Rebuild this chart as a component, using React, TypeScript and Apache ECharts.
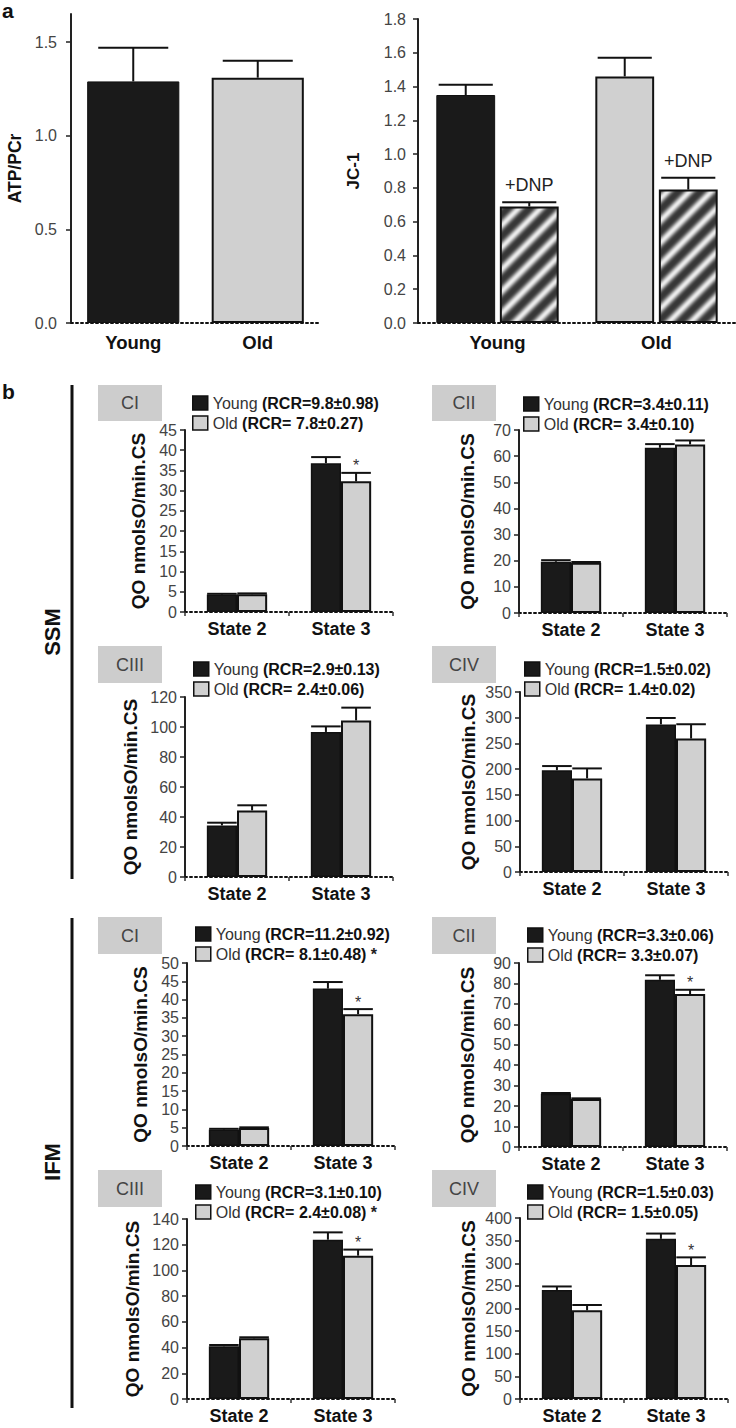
import React, { useEffect, useRef } from 'react';
import * as echarts from 'echarts';

const FONT = '"Liberation Sans", Arial, Helvetica, sans-serif';
const BLACK = '#1a1a1a';
const LIGHT = '#d0d0d0';
const EDGE = '#111111';

// ---------- panel a ----------
const groupCats = ['Young', 'Old'];
const atpMean = [1.29, 1.31];
const atpSem = [0.18, 0.09];
const jcMean = [1.35, 1.46];
const jcSem = [0.06, 0.11];
const jcDnpMean = [0.69, 0.79];
const jcDnpSem = [0.025, 0.07];

// ---------- panel b ----------
const stateCats = ['State 2', 'State 3'];

const ssmCiYoung = [4.3, 36.8];
const ssmCiYoungSem = [0.2, 1.5];
const ssmCiOld = [4.4, 32.3];
const ssmCiOldSem = [0.2, 2.1];
const ssmCiStar = [0, 1];

const ssmCiiYoung = [19.6, 63.2];
const ssmCiiYoungSem = [0.6, 1.4];
const ssmCiiOld = [19.2, 64.5];
const ssmCiiOldSem = [0.3, 1.5];
const ssmCiiStar = [0, 0];

const ssmCiiiYoung = [34.4, 96.7];
const ssmCiiiYoungSem = [1.8, 3.7];
const ssmCiiiOld = [44.4, 104.4];
const ssmCiiiOldSem = [3.4, 8.5];
const ssmCiiiStar = [0, 0];

const ssmCivYoung = [198, 287];
const ssmCivYoungSem = [8, 12.5];
const ssmCivOld = [182, 259.5];
const ssmCivOldSem = [19.4, 27.8];
const ssmCivStar = [0, 0];

const ifmCiYoung = [4.5, 43.0];
const ifmCiYoungSem = [0.2, 1.8];
const ifmCiOld = [4.9, 36.0];
const ifmCiOldSem = [0.2, 1.4];
const ifmCiStar = [0, 1];

const ifmCiiYoung = [26.0, 81.8];
const ifmCiiYoungSem = [0.4, 2.2];
const ifmCiiOld = [23.5, 74.8];
const ifmCiiOldSem = [0.3, 2.1];
const ifmCiiStar = [0, 1];

const ifmCiiiYoung = [41.0, 123.9];
const ifmCiiiYoungSem = [1.0, 5.7];
const ifmCiiiOld = [47.2, 111.5];
const ifmCiiiOldSem = [0.8, 4.7];
const ifmCiiiStar = [0, 1];

const ifmCivYoung = [241, 354];
const ifmCivYoungSem = [7.7, 11.6];
const ifmCivOld = [196, 296];
const ifmCivOldSem = [11.7, 17];
const ifmCivStar = [0, 1];

const complexLabels = ['CI', 'CII', 'CIII', 'CIV', 'CI', 'CII', 'CIII', 'CIV'];
const yMax = [45, 70, 120, 350, 50, 90, 140, 400];
const yInterval = [5, 10, 20, 50, 5, 10, 20, 50];
const youngNames = [
  'Young (RCR=9.8±0.98)', 'Young (RCR=3.4±0.11)', 'Young (RCR=2.9±0.13)', 'Young (RCR=1.5±0.02)',
  'Young (RCR=11.2±0.92)', 'Young (RCR=3.3±0.06)', 'Young (RCR=3.1±0.10)', 'Young (RCR=1.5±0.03)',
];
const oldNames = [
  'Old (RCR= 7.8±0.27)', 'Old (RCR= 3.4±0.10)', 'Old (RCR= 2.4±0.06)', 'Old (RCR= 1.4±0.02)',
  'Old (RCR= 8.1±0.48)', 'Old (RCR= 3.3±0.07)', 'Old (RCR= 2.4±0.08)', 'Old (RCR= 1.5±0.05)',
];
const oldRcrStar = [0, 0, 0, 0, 1, 0, 1, 0];
const fractionLabels = ['SSM', 'IFM'];
const yTitleB = 'QO nmolsO/min.CS';

const youngB = [ssmCiYoung, ssmCiiYoung, ssmCiiiYoung, ssmCivYoung, ifmCiYoung, ifmCiiYoung, ifmCiiiYoung, ifmCivYoung];
const youngSemB = [ssmCiYoungSem, ssmCiiYoungSem, ssmCiiiYoungSem, ssmCivYoungSem, ifmCiYoungSem, ifmCiiYoungSem, ifmCiiiYoungSem, ifmCivYoungSem];
const oldB = [ssmCiOld, ssmCiiOld, ssmCiiiOld, ssmCivOld, ifmCiOld, ifmCiiOld, ifmCiiiOld, ifmCivOld];
const oldSemB = [ssmCiOldSem, ssmCiiOldSem, ssmCiiiOldSem, ssmCivOldSem, ifmCiOldSem, ifmCiiOldSem, ifmCiiiOldSem, ifmCivOldSem];
const starB = [ssmCiStar, ssmCiiStar, ssmCiiiStar, ssmCivStar, ifmCiStar, ifmCiiStar, ifmCiiiStar, ifmCivStar];

// ---------- layout (pixels) ----------
const layoutB = [
  { axisX: 185, top: 430, zero: 612, nameGap: 37, legX: 192, legY: 395, boxX: 98, boxY: 385, boxH: 36 },
  { axisX: 519, top: 430, zero: 613, nameGap: 42, legX: 523, legY: 396, boxX: 432, boxY: 385, boxH: 36 },
  { axisX: 185, top: 697, zero: 877, nameGap: 45, legX: 193, legY: 661, boxX: 98, boxY: 646, boxH: 37 },
  { axisX: 520, top: 692, zero: 872, nameGap: 42, legX: 524, legY: 661, boxX: 432, boxY: 646, boxH: 37 },
  { axisX: 187, top: 963, zero: 1146, nameGap: 37, legX: 195, legY: 926, boxX: 98, boxY: 917, boxH: 37 },
  { axisX: 519, top: 963, zero: 1147, nameGap: 42, legX: 527, legY: 927, boxX: 432, boxY: 917, boxH: 37 },
  { axisX: 187, top: 1219, zero: 1399, nameGap: 45, legX: 195, legY: 1184, boxX: 98, boxY: 1170, boxH: 37 },
  { axisX: 520, top: 1218, zero: 1399, nameGap: 42, legX: 527, legY: 1184, boxX: 432, boxY: 1170, boxH: 37 },
];
const GRID_B_WIDTH = 208;
const BAR_B = 0.29;

function makeHatch() {
  const P = 22;
  const c = document.createElement('canvas');
  c.width = P;
  c.height = P;
  const ctx = c.getContext('2d');
  if (!ctx) return '#555';
  const img = ctx.createImageData(P, P);
  for (let y = 0; y < P; y++) {
    for (let x = 0; x < P; x++) {
      const t = ((x + y) % P) / P;
      const s = 0.5 + 0.5 * Math.cos(2 * Math.PI * t);
      const v = Math.round(55 + 180 * Math.pow(s, 1.6));
      const i = (y * P + x) * 4;
      img.data[i] = v;
      img.data[i + 1] = v;
      img.data[i + 2] = v;
      img.data[i + 3] = 255;
    }
  }
  ctx.putImageData(img, 0, 0);
  return { image: c.toDataURL(), repeat: 'repeat', imageWidth: P, imageHeight: P };
}

function errRender(widthPct: number, gapPct: number, side: number, capRatio: number, label?: string) {
  return (params: any, api: any) => {
    const idx = api.value(0);
    const mean = api.value(1);
    const top = api.value(2);
    const star = api.value(3);
    const band = api.size([1, 0])[0];
    const w = band * widthPct;
    const g = w * gapPct;
    const center = api.coord([idx, 0])[0];
    const cx = center + (side * (w + g)) / 2;
    const yb = api.coord([idx, mean])[1];
    const yt = api.coord([idx, top])[1];
    const half = (w * capRatio) / 2;
    const st = { stroke: '#111', lineWidth: 2 };
    const children: any[] = [
      { type: 'line', shape: { x1: cx, y1: yb, x2: cx, y2: yt }, style: st },
      { type: 'line', shape: { x1: cx - half, y1: yt, x2: cx + half, y2: yt }, style: st },
    ];
    if (label) {
      children.push({
        type: 'text',
        x: cx,
        y: yt - 8,
        style: {
          text: label, fill: '#222', font: `18px ${FONT}`,
          align: 'center', verticalAlign: 'bottom', textAlign: 'center', textVerticalAlign: 'bottom',
        },
      });
    }
    if (star) {
      children.push({
        type: 'text',
        x: cx,
        y: yt - 7,
        style: {
          text: '*', fill: '#333', font: `16px ${FONT}`,
          align: 'center', verticalAlign: 'middle', textAlign: 'center', textVerticalAlign: 'middle',
        },
      });
    }
    return { type: 'group', children };
  };
}

function xAxisCfg(gi: number, cats: string[], margin: number, ticks: boolean, fontSize: number) {
  return {
    gridIndex: gi,
    type: 'category',
    data: cats,
    axisLine: { show: true, onZero: true, lineStyle: { color: '#111', width: 2, type: [2, 3] } },
    axisTick: { show: ticks, length: 4, lineStyle: { color: '#333', width: 1.5 } },
    axisLabel: { fontFamily: FONT, fontSize, fontWeight: 'bold', color: '#111', margin },
    splitLine: { show: false },
  };
}

function yAxisCfg(gi: number, max: number, interval: number, name: string, nameGap: number, margin: number, nameSize: number, opts: any = {}) {
  return {
    gridIndex: gi,
    type: 'value',
    min: 0,
    max,
    interval,
    name,
    nameLocation: 'middle',
    nameRotate: 90,
    nameGap,
    nameTextStyle: { fontFamily: FONT, fontSize: nameSize, fontWeight: 'bold', color: '#111' },
    axisLine: { show: true, lineStyle: { color: '#222', width: 2 } },
    axisTick: { show: true, inside: false, length: 5, lineStyle: { color: '#222', width: 1.5 }, ...(opts.tick || {}) },
    axisLabel: { fontFamily: FONT, fontSize: 16, color: '#444', margin, ...(opts.label || {}) },
    splitLine: { show: false },
  };
}

function buildOption() {
  const hatch = makeHatch();
  const grid: any[] = [];
  const xAxis: any[] = [];
  const yAxis: any[] = [];
  const series: any[] = [];
  const legend: any[] = [];
  const graphic: any[] = [];

  // ---- panel a, left: ATP/PCr ----
  grid.push({ left: 71, top: 14, width: 249, height: 309, outerBoundsMode: 'none' });
  xAxis.push(xAxisCfg(0, groupCats, 10, false, 18.5));
  const aTicks = [0, 0.5, 1.0, 1.5];
  yAxis.push(
    yAxisCfg(0, 1.65, 0.5, 'ATP/PCr', 47, 14, 17.5, {
      tick: { customValues: aTicks },
      label: { customValues: aTicks, formatter: (v: number) => v.toFixed(1) },
    })
  );
  series.push({
    type: 'bar',
    name: 'ATP/PCr',
    xAxisIndex: 0,
    yAxisIndex: 0,
    barWidth: '74%',
    data: atpMean.map((v, i) => ({
      value: v,
      itemStyle: { color: i === 0 ? BLACK : LIGHT, borderColor: EDGE, borderWidth: i === 0 ? 1 : 2 },
    })),
  });
  series.push({
    type: 'custom',
    name: 'ATP/PCr SEM',
    xAxisIndex: 0,
    yAxisIndex: 0,
    renderItem: errRender(0.74, 0, 0, 0.76),
    data: atpMean.map((v, i) => [i, v, v + atpSem[i], 0]),
    z: 5,
  });

  // ---- panel a, right: JC-1 ----
  grid.push({ left: 418, top: 19, width: 318, height: 304, outerBoundsMode: 'none' });
  xAxis.push(xAxisCfg(1, groupCats, 10, false, 18.5));
  yAxis.push(
    yAxisCfg(1, 1.8, 0.2, 'JC-1', 56, 12, 17, {
      label: { formatter: (v: number) => v.toFixed(1) },
    })
  );
  series.push({
    type: 'bar',
    name: 'JC-1',
    xAxisIndex: 1,
    yAxisIndex: 1,
    barWidth: '37%',
    barGap: '8%',
    data: jcMean.map((v, i) => ({
      value: v,
      itemStyle: { color: i === 0 ? BLACK : LIGHT, borderColor: EDGE, borderWidth: i === 0 ? 1 : 2 },
    })),
  });
  series.push({
    type: 'bar',
    name: 'JC-1 +DNP',
    xAxisIndex: 1,
    yAxisIndex: 1,
    barWidth: '37%',
    barGap: '8%',
    itemStyle: { color: hatch, borderColor: EDGE, borderWidth: 2 },
    data: jcDnpMean,
  });
  series.push({
    type: 'custom',
    name: 'JC-1 SEM',
    xAxisIndex: 1,
    yAxisIndex: 1,
    renderItem: errRender(0.37, 0.08, -1, 0.92),
    data: jcMean.map((v, i) => [i, v, v + jcSem[i], 0]),
    z: 5,
  });
  series.push({
    type: 'custom',
    name: 'JC-1 +DNP SEM',
    xAxisIndex: 1,
    yAxisIndex: 1,
    renderItem: errRender(0.37, 0.08, 1, 0.92, '+DNP'),
    data: jcDnpMean.map((v, i) => [i, v, v + jcDnpSem[i], 0]),
    z: 5,
  });

  // ---- panel b ----
  layoutB.forEach((L, p) => {
    const gi = 2 + p;
    grid.push({ left: L.axisX, top: L.top, width: GRID_B_WIDTH, height: L.zero - L.top, outerBoundsMode: 'none' });
    xAxis.push(xAxisCfg(gi, stateCats, 8, true, 18));
    yAxis.push(yAxisCfg(gi, yMax[p], yInterval[p], yTitleB, L.nameGap, 8, 19));
    const yName = youngNames[p];
    const oName = oldNames[p];
    series.push({
      type: 'bar',
      name: yName,
      xAxisIndex: gi,
      yAxisIndex: gi,
      barWidth: `${BAR_B * 100}%`,
      barGap: '0%',
      itemStyle: { color: BLACK, borderColor: EDGE, borderWidth: 1.5 },
      data: youngB[p],
    });
    series.push({
      type: 'bar',
      name: oName,
      xAxisIndex: gi,
      yAxisIndex: gi,
      barWidth: `${BAR_B * 100}%`,
      barGap: '0%',
      itemStyle: { color: LIGHT, borderColor: EDGE, borderWidth: 2 },
      data: oldB[p],
    });
    series.push({
      type: 'custom',
      name: yName + ' SEM',
      xAxisIndex: gi,
      yAxisIndex: gi,
      renderItem: errRender(BAR_B, 0, -1, 0.98),
      data: youngB[p].map((v, i) => [i, v, v + youngSemB[p][i], 0]),
      z: 5,
    });
    series.push({
      type: 'custom',
      name: oName + ' SEM',
      xAxisIndex: gi,
      yAxisIndex: gi,
      renderItem: errRender(BAR_B, 0, 1, 0.98),
      data: oldB[p].map((v, i) => [i, v, v + oldSemB[p][i], starB[p][i]]),
      z: 5,
    });
    const starName = oldRcrStar[p] ? oName : '';
    legend.push({
      data: [yName, oName],
      left: L.legX,
      top: L.legY,
      orient: 'vertical',
      icon: 'rect',
      itemWidth: 15,
      itemHeight: 14,
      itemGap: 4,
      padding: 0,
      selectedMode: false,
      itemStyle: { borderColor: EDGE, borderWidth: 1.5 },
      formatter: (name: string) => {
        const k = name.indexOf(' (');
        const head = name.slice(0, k);
        const tail = name.slice(k + 1);
        return `{n|${head}} {b|${tail}}` + (name === starName ? ' {s|*}' : '');
      },
      textStyle: {
        fontFamily: FONT,
        fontSize: 16,
        color: '#333',
        rich: {
          n: { fontFamily: FONT, fontSize: 16, color: '#333', lineHeight: 16 },
          b: { fontFamily: FONT, fontSize: 16, fontWeight: 'bold', color: '#111', lineHeight: 16 },
          s: { fontFamily: FONT, fontSize: 16, fontWeight: 'bold', color: '#222', lineHeight: 16 },
        },
      },
    });
    // complex box
    graphic.push({
      type: 'rect',
      shape: { x: L.boxX, y: L.boxY, width: 64, height: L.boxH },
      style: { fill: '#cdcdcd' },
      silent: true,
    });
    graphic.push({
      type: 'text',
      x: L.boxX + 32,
      y: L.boxY + L.boxH / 2,
      style: {
        text: complexLabels[p], fill: '#444', font: `18px ${FONT}`,
        align: 'center', verticalAlign: 'middle', textAlign: 'center', textVerticalAlign: 'middle',
      },
      silent: true,
    });
  });

  // panel letters
  graphic.push({
    type: 'text', x: 2, y: 0,
    style: { text: 'a', fill: '#111', font: `bold 21px ${FONT}`, align: 'left', verticalAlign: 'top', textAlign: 'left', textVerticalAlign: 'top' },
  });
  graphic.push({
    type: 'text', x: 2, y: 381,
    style: { text: 'b', fill: '#111', font: `bold 21px ${FONT}`, align: 'left', verticalAlign: 'top', textAlign: 'left', textVerticalAlign: 'top' },
  });
  // fraction brackets
  const fracSpans = [
    { y1: 385, y2: 879, ty: 632 },
    { y1: 918, y2: 1408, ty: 1162 },
  ];
  fracSpans.forEach((f, i) => {
    graphic.push({ type: 'line', shape: { x1: 72, y1: f.y1, x2: 72, y2: f.y2 }, style: { stroke: '#111', lineWidth: 3 } });
    graphic.push({
      type: 'text', x: 52, y: f.ty, rotation: Math.PI / 2,
      style: {
        text: fractionLabels[i], fill: '#111', font: `bold 22px ${FONT}`,
        align: 'center', verticalAlign: 'middle', textAlign: 'center', textVerticalAlign: 'middle',
      },
    });
  });

  return {
    animation: false,
    backgroundColor: '#ffffff',
    textStyle: { fontFamily: FONT },
    grid,
    xAxis,
    yAxis,
    series,
    legend,
    graphic,
  };
}

export default function App() {
  const ref = useRef<HTMLDivElement>(null);
  useEffect(() => {
    if (!ref.current) return;
    const chart = echarts.init(ref.current, null, { renderer: 'svg' });
    chart.setOption(buildOption() as any);
    return () => chart.dispose();
  }, []);
  return (
    <div
      ref={ref}
      style={{ position: 'absolute', left: 0, top: 0, width: 736, height: 1428, background: '#fff' }}
    />
  );
}
